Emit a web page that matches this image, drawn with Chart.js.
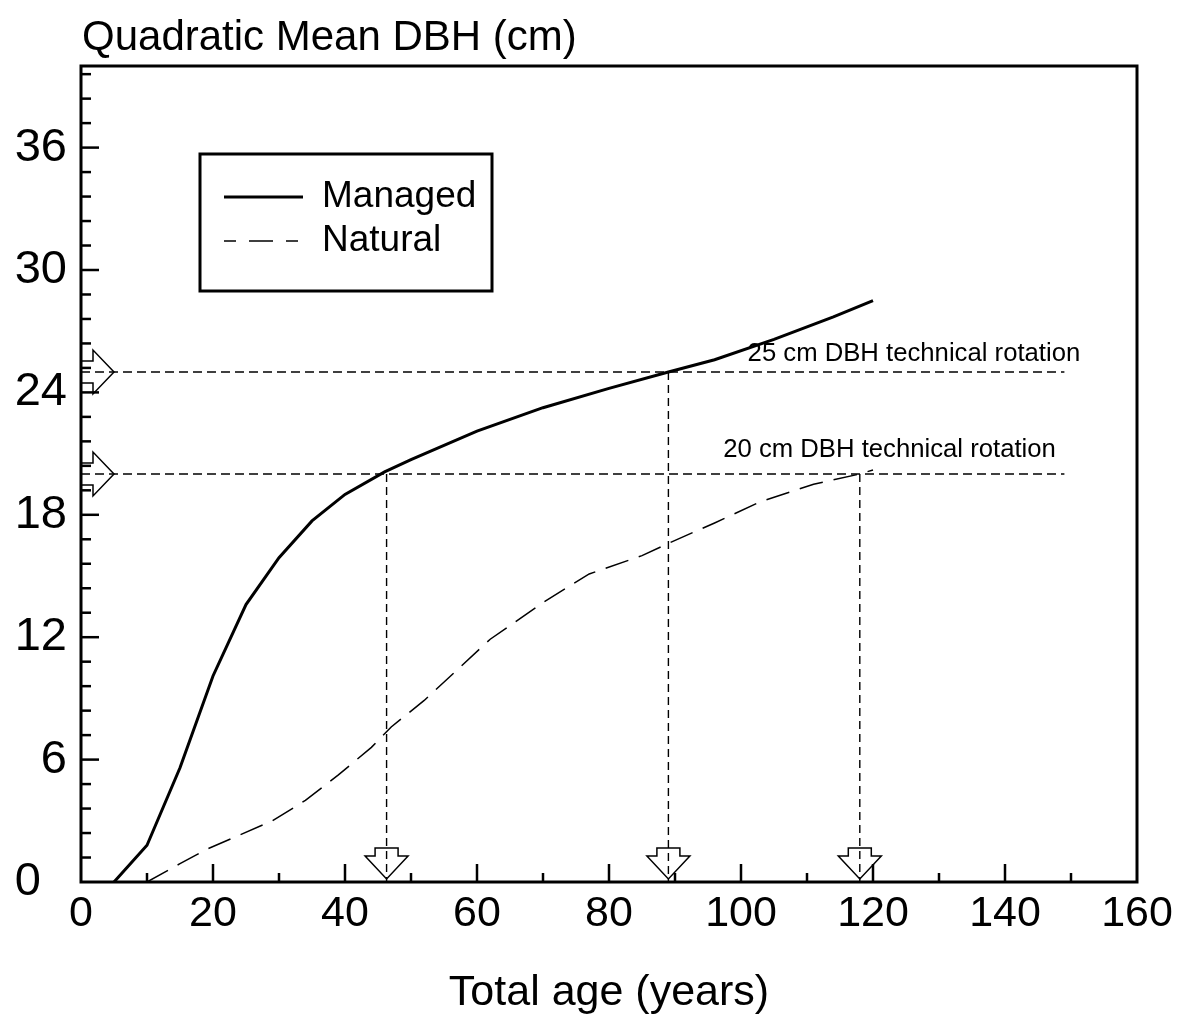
<!DOCTYPE html>
<html>
<head>
<meta charset="utf-8">
<script src="https://cdn.jsdelivr.net/npm/chart.js@4.4.0/dist/chart.umd.min.js"></script>
<style>
  html, body { margin: 0; padding: 0; background: #fff; }
  #wrap { width: 1182px; height: 1015px; }
</style>
</head>
<body>
<div id="wrap"><canvas id="dbhChart" width="1182" height="1015"></canvas></div>
<script>
// Managed stand: total age (years) vs quadratic mean DBH (cm)
const managedAge = [5, 10, 15, 20, 25, 30, 35, 40, 46, 50, 60, 70, 80, 89, 96, 105, 114, 120];
const managedDbh = [0, 1.8, 5.6, 10.1, 13.6, 15.9, 17.7, 19.0, 20.1, 20.7, 22.1, 23.25, 24.2, 25.0, 25.6, 26.6, 27.7, 28.5];

// Natural stand
const naturalAge = [10, 15, 19, 24, 29, 34, 39, 44, 47, 52, 57, 62, 70, 77, 85, 89, 96, 103, 111, 118, 120];
const naturalDbh = [0, 0.9, 1.6, 2.3, 3.0, 4.0, 5.25, 6.6, 7.6, 8.9, 10.4, 11.9, 13.7, 15.1, 16.0, 16.6, 17.6, 18.65, 19.5, 20.0, 20.2];

// technical rotation targets
const rotationDbh = [25, 20];
const rotationLabels = ['25 cm DBH technical rotation', '20 cm DBH technical rotation'];
const rotationLineEnd = 149;
const rotationAges = [46.3, 89, 118];
const rotationAgeDbh = [20, 25, 20];

const xTicks = [0, 20, 40, 60, 80, 100, 120, 140, 160];
const yTicks = [0, 6, 12, 18, 24, 30, 36];

const toPoints = (xs, ys) => xs.map((v, i) => ({ x: v, y: ys[i] }));

const refStyle = { borderColor: '#000', borderWidth: 1.4, borderDash: [9, 5], pointRadius: 0, fill: false };

const datasets = [
    { label: 'Managed', data: toPoints(managedAge, managedDbh), borderColor: '#000', borderWidth: 3, pointRadius: 0, tension: 0 },
    { label: 'Natural', data: toPoints(naturalAge, naturalDbh), borderColor: '#000', borderWidth: 1.5, borderDash: [24, 11], pointRadius: 0, tension: 0 },
];
rotationDbh.forEach(d => {
    datasets.push({ label: 'ref', data: [{ x: 0, y: d }, { x: rotationLineEnd, y: d }], ...refStyle });
});
rotationAges.forEach((a, i) => {
    datasets.push({ label: 'ref', data: [{ x: a, y: rotationAgeDbh[i] }, { x: a, y: 0 }], ...refStyle, borderDash: [8, 5] });
});

const FONT = "'Liberation Sans', Arial, sans-serif";

const overlay = {
    id: 'overlay',
    afterDatasetsDraw(chart) {
        const { ctx, chartArea: a, scales: { x, y } } = chart;
        const seg = (x1, y1, x2, y2) => { ctx.beginPath(); ctx.moveTo(x1, y1); ctx.lineTo(x2, y2); ctx.stroke(); };
        ctx.save();
        ctx.strokeStyle = '#000';
        ctx.fillStyle = '#000';

        // frame
        ctx.lineWidth = 3;
        ctx.strokeRect(a.left, a.top, a.right - a.left, a.bottom - a.top);

        // inward ticks
        ctx.lineWidth = 2.5;
        for (let i = 1; i * 1.2 < 40; i++) {
            const py = y.getPixelForValue(i * 1.2);
            seg(a.left, py, a.left + (i % 5 === 0 ? 18 : 10), py);
        }
        for (let v = 10; v < 160; v += 10) {
            const px = x.getPixelForValue(v);
            seg(px, a.bottom, px, a.bottom - (v % 20 === 0 ? 18 : 9));
        }

        // hollow block arrows
        ctx.lineWidth = 1.5;
        rotationDbh.forEach(d => {
            const py = y.getPixelForValue(d);
            const x0 = a.left + 1, xs = x0 + 11, xt = x0 + 32;
            ctx.beginPath();
            ctx.moveTo(x0, py - 11); ctx.lineTo(xs, py - 11); ctx.lineTo(xs, py - 22);
            ctx.lineTo(xt, py); ctx.lineTo(xs, py + 22); ctx.lineTo(xs, py + 11); ctx.lineTo(x0, py + 11);
            ctx.stroke();
        });
        rotationAges.forEach(ag => {
            const px = x.getPixelForValue(ag);
            const tip = a.bottom - 3, hb = tip - 23, st = hb - 8;
            ctx.beginPath();
            ctx.moveTo(px - 11.5, st); ctx.lineTo(px + 11.5, st); ctx.lineTo(px + 11.5, hb); ctx.lineTo(px + 21.5, hb);
            ctx.lineTo(px, tip); ctx.lineTo(px - 21.5, hb); ctx.lineTo(px - 11.5, hb); ctx.closePath();
            ctx.stroke();
        });

        // rotation labels
        ctx.font = `25.7px ${FONT}`;
        ctx.textAlign = 'left';
        ctx.textBaseline = 'alphabetic';
        ctx.fillText(rotationLabels[0], x.getPixelForValue(101), y.getPixelForValue(25.55));
        ctx.fillText(rotationLabels[1], x.getPixelForValue(97.3), y.getPixelForValue(20.85));

        // legend box
        ctx.lineWidth = 3;
        ctx.strokeRect(200, 154, 292, 137);
        const rows = [197, 241];
        chart.data.datasets.slice(0, 2).forEach((ds, i) => {
            ctx.lineWidth = ds.borderWidth;
            ctx.setLineDash(ds.borderDash ? [12, 13, 24, 13, 12] : []);
            seg(224, rows[i], 303, rows[i]);
            ctx.setLineDash([]);
            ctx.font = `37px ${FONT}`;
            ctx.textBaseline = 'middle';
            ctx.fillText(ds.label, 322, rows[i]);
        });

        // y axis title at top left
        ctx.font = `42px ${FONT}`;
        ctx.textBaseline = 'alphabetic';
        ctx.fillText('Quadratic Mean DBH (cm)', 82, 50);
        ctx.restore();
    }
};

new Chart(document.getElementById('dbhChart'), {
    type: 'line',
    data: { datasets },
    options: {
        responsive: false,
        animation: false,
        devicePixelRatio: 1,
        layout: { padding: { top: 66, right: 45, left: 0, bottom: 0 } },
        plugins: { legend: { display: false }, tooltip: { enabled: false } },
        scales: {
            x: {
                type: 'linear', min: 0, max: 160,
                afterBuildTicks: s => { s.ticks = xTicks.map(v => ({ value: v })); },
                afterFit: s => { s.height = 133; },
                grid: { display: false, drawTicks: false },
                border: { display: false },
                ticks: { color: '#000', font: { family: FONT, size: 43 }, padding: 6, maxRotation: 0, autoSkip: false },
                title: { display: true, text: 'Total age (years)', color: '#000', font: { family: FONT, size: 43, lineHeight: 1.0 }, padding: { top: 0, bottom: 0 } }
            },
            y: {
                type: 'linear', min: 0, max: 40,
                afterBuildTicks: s => { s.ticks = yTicks.map(v => ({ value: v })); },
                afterFit: s => { s.width = 81; },
                grid: { display: false, drawTicks: false },
                border: { display: false },
                ticks: {
                    color: '#000', font: { family: FONT, size: 47 }, padding: 14,
                    // the zero label sits further left, clear of the x-axis zero
                    callback: v => (v === 0 ? '0  ' : String(v))
                }
            }
        }
    },
    plugins: [overlay]
});
</script>
</body>
</html>
